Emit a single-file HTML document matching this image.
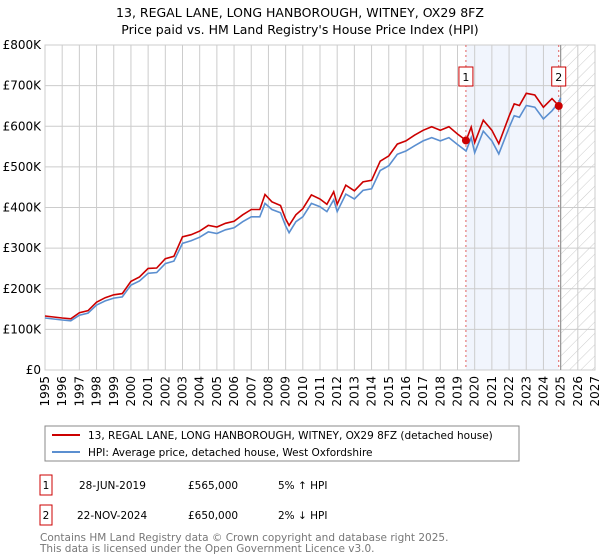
<!DOCTYPE html>
<html><head><meta charset="utf-8"><style>
body{margin:0;background:#fff;font-family:"DejaVu Sans","Liberation Sans",sans-serif;}
svg{display:block}
</style></head><body>
<svg width="600" height="560" xmlns="http://www.w3.org/2000/svg" font-family="DejaVu Sans, Liberation Sans, sans-serif">
<text x="300" y="17" text-anchor="middle" font-size="12.5">13, REGAL LANE, LONG HANBOROUGH, WITNEY, OX29 8FZ</text>
<text x="300" y="34" text-anchor="middle" font-size="12.5">Price paid vs. HM Land Registry's House Price Index (HPI)</text>
<defs><pattern id="hatch" width="8" height="8" patternUnits="userSpaceOnUse" patternTransform="rotate(45)"><line x1="0" y1="0" x2="0" y2="8" stroke="#ccc" stroke-width="1"/></pattern></defs>
<g id="plot"></g>
<g id="legend">
<rect x="45" y="426" width="474" height="35" fill="#fff" stroke="#888"/>
<line x1="52" y1="435" x2="80" y2="435" stroke="#cc0000" stroke-width="2"/>
<text x="88" y="439" font-size="10.5">13, REGAL LANE, LONG HANBOROUGH, WITNEY, OX29 8FZ (detached house)</text>
<line x1="52" y1="452" x2="80" y2="452" stroke="#5b8fd0" stroke-width="2"/>
<text x="88" y="456" font-size="10.5">HPI: Average price, detached house, West Oxfordshire</text>
</g>
<g font-size="10.5">
<rect x="40" y="475" width="12" height="20" fill="#fff" stroke="#cc0000"/>
<text x="46" y="489" text-anchor="middle">1</text>
<text x="79" y="489">28-JUN-2019</text>
<text x="188" y="489">£565,000</text>
<text x="278" y="489">5% ↑ HPI</text>
<rect x="40" y="505" width="12" height="20" fill="#fff" stroke="#cc0000"/>
<text x="46" y="519" text-anchor="middle">2</text>
<text x="77" y="519">22-NOV-2024</text>
<text x="188" y="519">£650,000</text>
<text x="278" y="519">2% ↓ HPI</text>
</g>
<text x="40" y="541" font-size="10.5" fill="#777">Contains HM Land Registry data © Crown copyright and database right 2025.</text>
<text x="40" y="552" font-size="10.5" fill="#777">This data is licensed under the Open Government Licence v3.0.</text>
</svg>
<script>
const years=[1995,1996,1996.5,1997,1997.5,1998,1998.5,1999,1999.5,2000,2000.5,2001,2001.5,2002,2002.5,2003,2003.5,2004,2004.5,2005,2005.5,2006,2006.5,2007,2007.5,2007.8,2008.2,2008.7,2009,2009.2,2009.6,2010,2010.5,2011,2011.4,2011.8,2012,2012.5,2013,2013.5,2014,2014.5,2015,2015.5,2016,2016.5,2017,2017.5,2018,2018.5,2019,2019.5,2019.8,2020,2020.5,2021,2021.4,2022,2022.3,2022.6,2023,2023.5,2024,2024.5,2024.9,2025.0];
const hpi=[128,123,121,135,140,160,170,177,180,209,219,238,240,262,268,312,318,327,340,336,345,350,365,377,377,410,395,387,355,338,365,377,410,402,390,419,390,433,421,442,446,491,503,531,539,552,564,572,564,572,555,539,572,535,588,564,532,597,626,622,651,647,618,638,659,670];
const prop=[133,128,126,141,146,167,178,185,188,218,229,250,251,274,280,328,333,342,356,352,361,366,382,395,395,432,414,405,372,356,382,397,431,421,408,439,408,455,441,463,467,514,527,556,564,578,590,599,590,599,581,565,598,560,615,590,557,625,655,651,681,677,647,668,650,652];
const yTicks=[0,100,200,300,400,500,600,700,800];
const yTickLabels=['£0','£100K','£200K','£300K','£400K','£500K','£600K','£700K','£800K'];
const xTicks=[1995,1996,1997,1998,1999,2000,2001,2002,2003,2004,2005,2006,2007,2008,2009,2010,2011,2012,2013,2014,2015,2016,2017,2018,2019,2020,2021,2022,2023,2024,2025,2026,2027];
const saleYears=[2019.49,2024.89];
const salePrices=[565,650];
const saleLabels=['1','2'];

const L=45,R=595,T=45,B=370,X0=1995,X1=2027,YMAX=800;
const xs=v=>L+(v-X0)/(X1-X0)*(R-L);
const ys=v=>B-v/YMAX*(B-T);
const NS='http://www.w3.org/2000/svg';
const g=document.getElementById('plot');
function mk(tag,attrs){const e=document.createElementNS(NS,tag);for(const k in attrs)e.setAttribute(k,attrs[k]);g.appendChild(e);return e;}

let r=mk('rect',{x:xs(saleYears[0]),y:T,width:xs(saleYears[1])-xs(saleYears[0]),height:B-T,fill:'#eef3fc',opacity:0.8});


r=mk('rect',{x:xs(2025),y:T,width:R-xs(2025),height:B-T,fill:'url(#hatch)'});



yTicks.forEach((t,i)=>{
  const l=mk('line',{x1:L,x2:R,y1:ys(t),y2:ys(t),stroke:'#ccc','stroke-width':1});
  
  
  const tx=mk('text',{x:L-4,y:ys(t)+4,'text-anchor':'end','font-size':'12'});
  tx.textContent=yTickLabels[i];
  
  
});
xTicks.forEach(t=>{
  const l=mk('line',{x1:xs(t),x2:xs(t),y1:T,y2:B,stroke:'#ccc','stroke-width':1});
  
  
  const tx=mk('text',{x:0,y:0,'text-anchor':'end','font-size':'12',transform:`translate(${xs(t)+4},${B+6}) rotate(-90)`});
  tx.textContent=t;
  
  
});
let b=mk('rect',{x:L,y:T,width:R-L,height:B-T,fill:'none',stroke:'#ccc'});


let nl=mk('line',{x1:xs(2025),x2:xs(2025),y1:T,y2:B,stroke:'#999','stroke-width':1.2});



saleYears.forEach((s,i)=>{
  const l=mk('line',{x1:xs(s),x2:xs(s),y1:T,y2:B,stroke:'#e06060','stroke-dasharray':'2,3','stroke-width':1});
  
  
});

const pts=a=>years.map((y,i)=>xs(y).toFixed(1)+','+ys(a[i]).toFixed(1)).join(' ');
let p=mk('polyline',{points:pts(hpi),fill:'none',stroke:'#5b8fd0','stroke-width':1.6});


p=mk('polyline',{points:pts(prop),fill:'none',stroke:'#cc0000','stroke-width':1.6});



saleYears.forEach((s,i)=>{
  const c=mk('circle',{cx:xs(s),cy:ys(salePrices[i]),r:4,fill:'#cc0000'});
  
  
  const bx=mk('rect',{x:xs(s)-7,y:67,width:14,height:19,fill:'#fff',stroke:'#cc0000'});
  
  
  const t=mk('text',{x:xs(s),y:81,'text-anchor':'middle','font-size':'11'});
  t.textContent=saleLabels[i];
  
  
});
</script>
</body></html>
